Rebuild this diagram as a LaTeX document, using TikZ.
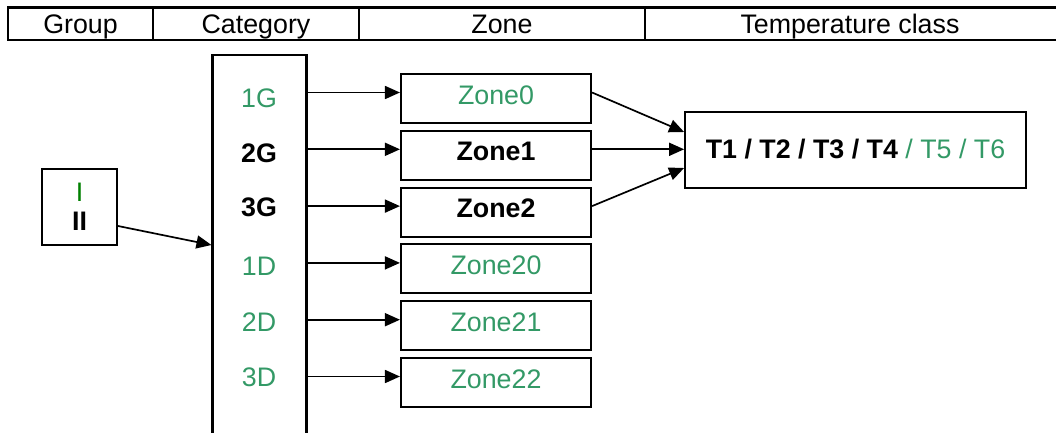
\documentclass[tikz,border=0pt]{standalone}
\usepackage{fontspec}
\setmainfont{Liberation Sans}
\usetikzlibrary{arrows.meta}
\definecolor{sg}{RGB}{51,153,102}
\definecolor{dg}{RGB}{0,128,0}
\begin{document}
\begin{tikzpicture}[x=1pt,y=-1pt,
  every node/.style={font=\fontsize{26.8}{29.5}\selectfont},
  box/.style={draw,line width=2.1pt,inner sep=0pt},
  zonebox/.style={box,minimum width=190pt,minimum height=49pt,text height=30pt,text depth=19pt},
  arr/.style={line width=1.7pt,-{Triangle[length=15pt,width=13pt]}},
  hdr/.style={anchor=base,inner sep=0pt},
  lbl/.style={inner sep=0pt},
  hline/.style={line width=2.2pt}
  ]
\useasboundingbox (0,0) rectangle (1056,432);
\clip (0,0) rectangle (1056,432);
% header table
\draw[hline] (7,7.5) -- (1060,7.5) (7,40) -- (1060,40);
\draw[hline] (8,7.5) -- (8,40) (153,7.5) -- (153,40) (359,7.5) -- (359,40) (645,7.5) -- (645,40);
\node[hdr] (h1) at (80.5,33) {Group};
\node[hdr] (h2) at (256,33) {Category};
\node[hdr] (h3) at (502,33) {Zone};
\node[hdr] (h4) at (850,33) {Temperature class};
% group
\node[box,minimum width=75pt,minimum height=76pt,align=center] (grp) at (79.5,207) {\textcolor{dg}{I}\\\textbf{II}};
% category
\node[box,minimum width=94pt,minimum height=420pt] (cat) at (259.5,265) {};
\node[lbl,text=sg] (c1) at (259,98) {1G};
\node[lbl] (c2) at (259,153) {\textbf{2G}};
\node[lbl] (c3) at (259,207.5) {\textbf{3G}};
\node[lbl,text=sg] (c4) at (259,266) {1D};
\node[lbl,text=sg] (c5) at (259,322) {2D};
\node[lbl,text=sg] (c6) at (259,377.5) {3D};
% zones
\node[zonebox,text=sg] (z0) at (496,98.5) {Zone0};
\node[zonebox] (z1) at (496,155.3) {\textbf{Zone1}};
\node[zonebox] (z2) at (496,212.1) {\textbf{Zone2}};
\node[zonebox,text=sg] (z20) at (496,268.9) {Zone20};
\node[zonebox,text=sg] (z21) at (496,325.7) {Zone21};
\node[zonebox,text=sg] (z22) at (496,382.5) {Zone22};
% temperature
\node[box,line width=1.8pt,minimum width=341pt,minimum height=76pt,text height=46pt,text depth=30pt] (temp) at (855.5,150)
  {\textbf{T1 / T2 / T3 / T4} \textcolor{sg}{/ T5 / T6}};
% arrows
\draw[arr] ([yshift=-19pt]grp.east) -- ([yshift=20pt]cat.west);
\foreach \z in {z0,z1,z2,z20,z21,z22}{
  \draw[arr] ([yshift=6pt]\z.west -| cat.east) -- ([yshift=6pt]\z.west);
}
\draw[arr] ([yshift=6pt]z0.east) -- ([yshift=18pt]temp.west);
\draw[arr] ([yshift=6pt]z1.east) -- ([yshift=6pt]z1.east -| temp.west);
\draw[arr] ([yshift=6pt]z2.east) -- ([yshift=-18pt]temp.west);
\end{tikzpicture}
\end{document}
